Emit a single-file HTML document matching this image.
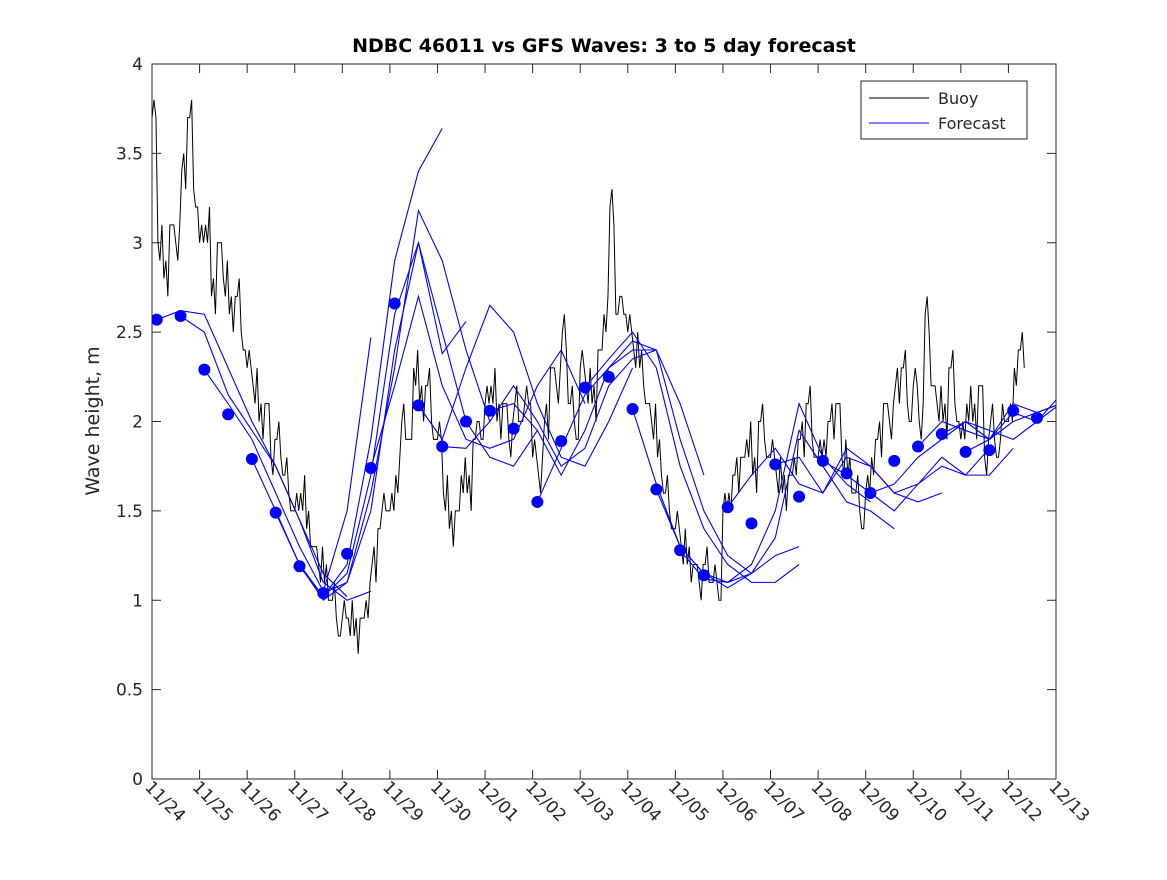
<!DOCTYPE html>
<html><head><meta charset="utf-8"><style>
body{margin:0;background:#fff}
svg text{font-family:"DejaVu Sans","Liberation Sans",sans-serif;fill:#262626}
</style></head><body>
<svg id="chart" width="1167" height="875" viewBox="0 0 1167 875" xmlns="http://www.w3.org/2000/svg">
<rect width="1167" height="875" fill="#fff"/>
<defs><clipPath id="pc"><rect x="152" y="64" width="904" height="715"/></clipPath></defs>
<text x="604" y="52" text-anchor="middle" font-size="19" font-weight="bold" style="fill:#000">NDBC 46011 vs GFS Waves: 3 to 5 day forecast</text>
<text transform="translate(99,421) rotate(-90)" text-anchor="middle" font-size="19">Wave height, m</text>
<g id="plot"></g>
<g>
<rect x="861" y="81" width="166" height="58" fill="#fff" stroke="#262626" stroke-width="1"/>
<line x1="869" y1="98" x2="929" y2="98" stroke="#000"/>
<text x="938" y="104" font-size="16">Buoy</text>
<line x1="869" y1="123" x2="929" y2="123" stroke="#00f"/>
<text x="938" y="129" font-size="16">Forecast</text>
</g>
</svg>
<script>
const xTickLabels=["11/24","11/25","11/26","11/27","11/28","11/29","11/30","12/01","12/02","12/03","12/04","12/05","12/06","12/07","12/08","12/09","12/10","12/11","12/12","12/13"];
const yTicks=[0,0.5,1,1.5,2,2.5,3,3.5,4];
const buoyStep=0.125;
const buoyValues=[3.7,3.0,2.8,3.1,3.0,3.4,3.7,3.3, 3.0,3.1,2.7,3.0,2.8,2.6,2.7,2.5, 2.3,2.2,2.0,2.1,1.8,1.9,1.7,1.6, 1.5,1.6,1.4,1.3,1.2,1.1,1.0,0.9, 0.9,0.9,0.8,0.9,1.0,1.2,1.4,1.6, 1.5,1.7,2.0,1.9,2.3,2.1,2.2,2.0, 1.9,1.6,1.4,1.5,1.7,1.6,1.9,2.0, 2.1,2.2,2.0,2.1,1.9,2.1,2.0,2.2, 1.8,1.7,2.0,2.3,2.2,2.5,2.1,2.0, 2.3,2.2,2.1,2.4,2.6,3.2,2.6,2.7, 2.5,2.4,2.3,2.1,2.0,1.8,1.6,1.5, 1.4,1.3,1.2,1.2,1.1,1.2,1.1,1.1, 1.5,1.6,1.7,1.8,1.9,1.7,2.0,1.9, 1.8,1.7,1.6,1.7,1.8,1.9,2.1,1.9, 1.8,1.9,2.0,2.1,1.8,1.7,1.6,1.5, 1.6,1.8,1.9,2.1,2.0,2.2,2.3,2.1, 2.2,2.0,2.6,2.2,2.1,2.0,2.3,2.1, 1.9,2.1,2.0,2.2,1.8,2.0,1.8,2.1, 2.0,2.3,2.4];
const buoyJitter=[0.1,-0.1,0.1,0,-0.1,0.1,0,-0.1];
const dotStart=0.1, dotStep=0.5;
const dotValues=[2.57,2.59,2.29,2.04,1.79,1.49,1.19,1.04,1.26,1.74,2.66,2.09,1.86,2.0,2.06,1.96,1.55,1.89,2.19,2.25,2.07,1.62,1.28,1.14,1.52,1.43,1.76,1.58,1.78,1.71,1.60,1.78,1.86,1.93,1.83,1.84,2.06,2.02];
const runStartIdx=[0,1,2,4,5,6,7,9,11,12,14,16,18,20,21,22,24,26,28,30,32,33,34];
const runValues=[
[2.57,2.62,2.6,2.3,2.0,1.75,1.45,1.15,1.02],
[2.59,2.5,2.15,1.95,1.75,1.45,1.1,1.0,1.05],
[2.29,2.1,1.9,1.6,1.3,1.05,1.5,2.47],
[1.79,1.5,1.2,1.02,1.15,1.7,2.6,3.0,2.38,2.56],
[1.49,1.2,1.0,1.1,1.6,2.3,3.18,2.9,2.4,2.0],
[1.19,1.02,1.2,1.9,2.9,3.4,3.64],
[1.04,1.1,1.5,2.4,3.0,2.5,2.0,1.8,1.75,1.95],
[1.74,2.2,2.7,2.2,1.9,1.85,1.9,2.2,2.4,2.1],
[2.09,1.9,2.3,2.65,2.5,2.1,1.8,1.75,2.0,2.3],
[1.86,1.85,2.0,2.2,2.0,1.75,1.85,2.2,2.35,2.4],
[2.06,2.1,1.95,1.7,1.95,2.3,2.4,2.4,2.1,1.7],
[1.55,1.85,2.15,2.3,2.45,2.4,1.9,1.5,1.25,1.15],
[2.19,2.35,2.5,2.3,1.75,1.4,1.2,1.1,1.1,1.2],
[2.07,1.65,1.3,1.15,1.07,1.15,1.25,1.3],
[1.62,1.3,1.15,1.1,1.2,1.5,2.1,1.8,1.65,1.55],
[1.28,1.12,1.1,1.15,1.35,1.95,1.75,1.55,1.5,1.4],
[1.52,1.7,1.85,1.65,1.6,1.8,1.75,1.6,1.55,1.6],
[1.76,1.8,1.6,1.85,1.75,1.6,1.65,1.75,1.7,1.85],
[1.78,1.7,1.6,1.5,1.65,1.8,1.7,1.7,1.85],
[1.6,1.65,1.8,1.9,2.0,1.95,1.9,2.0,2.1],
[1.86,2.0,1.95,1.9,2.1,2.05,2.1,2.1],
[1.93,2.0,1.9,2.0,2.05,2.1,2.0,1.85],
[1.83,1.9,2.05,2.0,2.15,2.15,2.05,1.9]
];
const X0=152,X1=1056,Y0=779,Y1=64;
const xs=d=>X0+d*(X1-X0)/19;
const ys=v=>Y0-v*(Y0-Y1)/4;
const NS="http://www.w3.org/2000/svg";
const g=document.getElementById('plot');
function mk(t,a,parent){const e=document.createElementNS(NS,t);for(const k in a)e.setAttribute(k,a[k]);(parent||g).appendChild(e);return e;}
const axes=mk('rect',{x:X0,y:Y1,width:X1-X0,height:Y0-Y1,fill:'none',stroke:'#262626'});


yTicks.forEach(v=>{
 const y=ys(v);
 const t1=mk('line',{x1:X0,y1:y,x2:X0+9,y2:y,stroke:'#262626'});
 
 
 const t2=mk('line',{x1:X1,y1:y,x2:X1-9,y2:y,stroke:'#262626'});
 
 
 const tx=mk('text',{x:X0-9,y:y+6,'text-anchor':'end','font-size':'17'});
 tx.textContent=String(v);
 
 
});
xTickLabels.forEach((l,i)=>{
 const x=xs(i);
 const t1=mk('line',{x1:x,y1:Y0,x2:x,y2:Y0-9,stroke:'#262626'});
 
 
 const t2=mk('line',{x1:x,y1:Y1,x2:x,y2:Y1+9,stroke:'#262626'});
 
 
 const tx=mk('text',{transform:`translate(${x-8},${Y0+9}) rotate(45)`,'font-size':'17'});
 tx.textContent=l;
 
 
});
const cg=mk('g',{'clip-path':'url(#pc)'});


let pts=[];
buoyValues.forEach((v,i)=>{
 const d=i*buoyStep;
 pts.push([xs(d),ys(v)]);
 pts.push([xs(d+buoyStep/3),ys(v+buoyJitter[i%8])]);
 pts.push([xs(d+2*buoyStep/3),ys(v-buoyJitter[(i+3)%8])]);
});
const bl=mk('polyline',{points:pts.map(p=>p.join(',')).join(' '),fill:'none',stroke:'#000','stroke-width':'1'},cg);


runValues.forEach((vals,r)=>{
 const p=vals.map((v,i)=>xs(dotStart+(runStartIdx[r]+i)*dotStep)+','+ys(v)).join(' ');
 const l=mk('polyline',{points:p,fill:'none',stroke:'#00f','stroke-width':'1.1'},cg);
 
 
});
dotValues.forEach((v,i)=>{
 const c=mk('circle',{cx:xs(dotStart+i*dotStep),cy:ys(v),r:6,fill:'#00f'},cg);
 
 
});
</script>
</body></html>
